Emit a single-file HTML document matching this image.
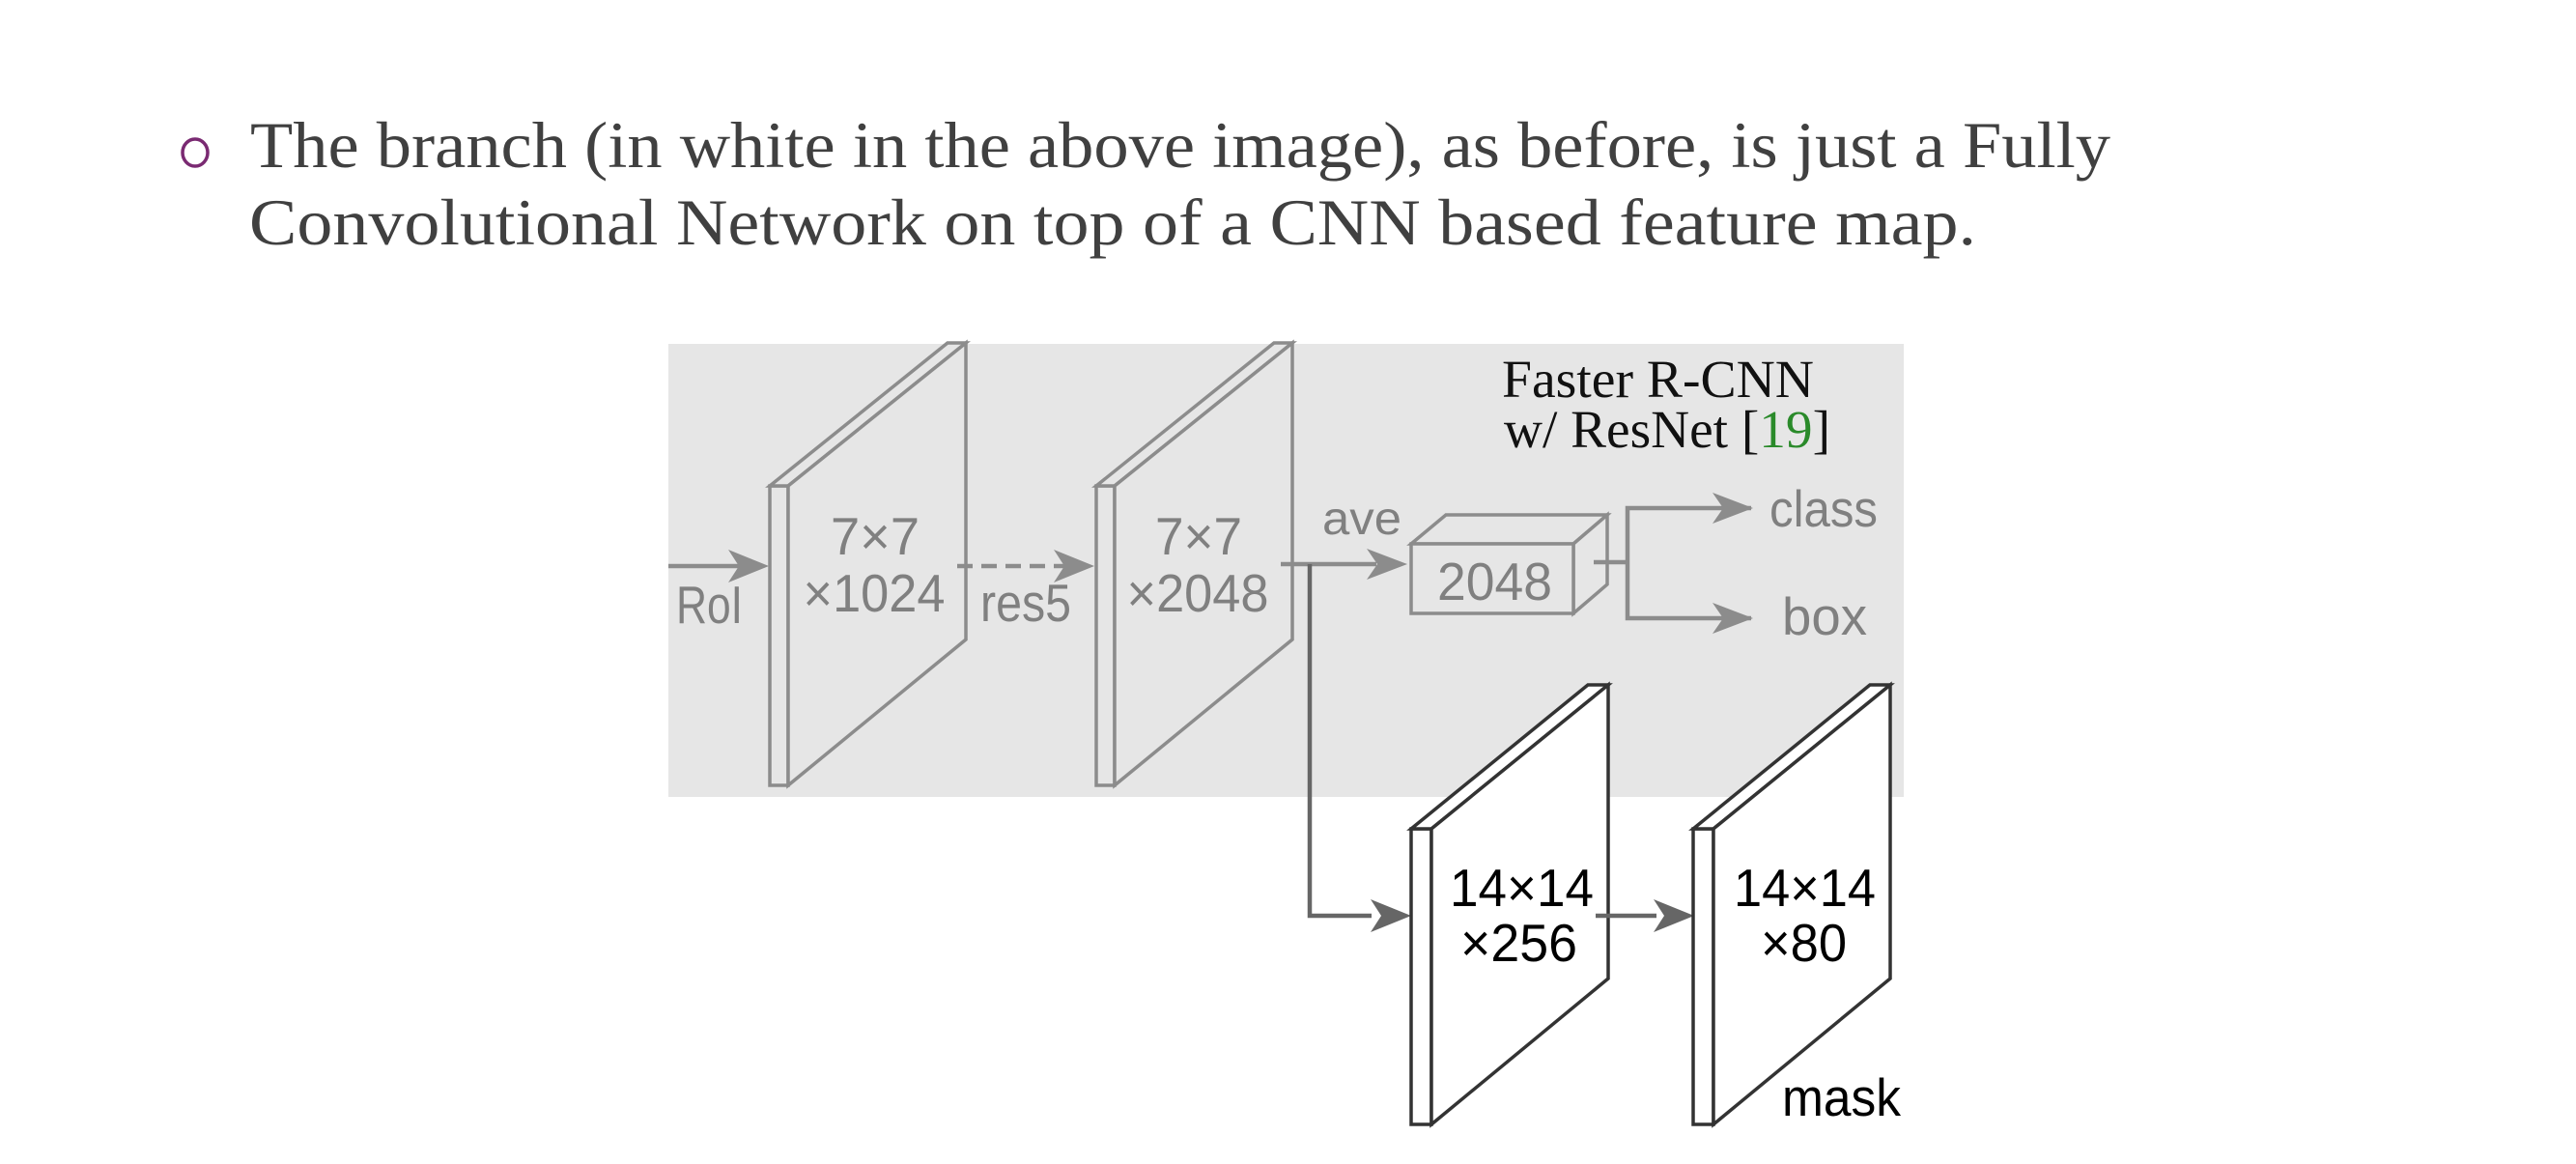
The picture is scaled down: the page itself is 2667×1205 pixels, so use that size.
<!DOCTYPE html>
<html><head><meta charset="utf-8"><style>
html,body{margin:0;padding:0;background:#fff;}
svg{display:block;}
</style></head><body>
<svg width="2667" height="1205" viewBox="0 0 2667 1205" xmlns="http://www.w3.org/2000/svg">
<!-- bullet text -->
<ellipse cx="202" cy="158" rx="13" ry="14" fill="none" stroke="#7a2a72" stroke-width="3.5"/>
<g font-family="Liberation Serif, serif" font-size="68" fill="#404040">
<text x="259" y="173" textLength="1926" lengthAdjust="spacingAndGlyphs">The branch (in white in the above image), as before, is just a Fully</text>
<text x="258" y="253" textLength="1788" lengthAdjust="spacingAndGlyphs">Convolutional Network on top of a CNN based feature map.</text>
</g>
<!-- gray background -->
<rect x="692" y="356" width="1279" height="469" fill="#e6e6e6"/>

<!-- gray plates -->
<g fill="#e6e6e6" stroke="#8c8c8c" stroke-width="3.5" stroke-linejoin="miter">
<rect x="797" y="503" width="19" height="310"/>
<polygon points="797,503 981,355 1000,355 816,503"/>
<polygon points="816,503 1000,355 1000,662 816,813"/>
<rect x="1135" y="503" width="19" height="310"/>
<polygon points="1135,503 1319,355 1338,355 1154,503"/>
<polygon points="1154,503 1338,355 1338,662 1154,813"/>
</g>

<!-- gray arrows -->
<g stroke="#8c8c8c" stroke-width="4.5" fill="none">
<line x1="692" y1="586" x2="770" y2="586"/>
<line x1="991" y1="586" x2="1105" y2="586" stroke-dasharray="16,9"/>
<line x1="1326" y1="584" x2="1425" y2="584"/>
<polyline points="1813,526 1685,526 1685,640 1813,640"/>
</g>
<g fill="#8c8c8c">
<polygon points="796,586 754,569 765,586 754,603"/>
<polygon points="1133,586 1091,569 1102,586 1091,603"/>
<polygon points="1457,584 1415,568 1426,584 1415,600"/>
<polygon points="1815,526 1773,510 1784,526 1773,542"/>
<polygon points="1815,640 1773,624 1784,640 1773,656"/>
</g>
<!-- 2048 box -->
<g fill="#e6e6e6" stroke="#8c8c8c" stroke-width="3.5">
<polygon points="1461,563 1497,533 1664,533 1629,563"/>
<polygon points="1629,563 1664,533 1664,605 1629,635"/>
<rect x="1461" y="563" width="168" height="72"/>
</g>
<line x1="1650" y1="582" x2="1685" y2="582" stroke="#8c8c8c" stroke-width="4.5"/>

<!-- gray labels -->
<g font-family="Liberation Sans, sans-serif" fill="#808080" font-size="55">
<text x="700" y="645" textLength="69" lengthAdjust="spacingAndGlyphs">RoI</text>
<text x="906" y="574" text-anchor="middle" textLength="92" lengthAdjust="spacingAndGlyphs">7×7</text>
<text x="905" y="633" textLength="147" lengthAdjust="spacingAndGlyphs" text-anchor="middle">×1024</text>
<text x="1015" y="643" textLength="94" lengthAdjust="spacingAndGlyphs">res5</text>
<text x="1241" y="574" text-anchor="middle" textLength="90" lengthAdjust="spacingAndGlyphs">7×7</text>
<text x="1240" y="633" textLength="147" lengthAdjust="spacingAndGlyphs" text-anchor="middle">×2048</text>
<text x="1369" y="553" font-size="48" textLength="82" lengthAdjust="spacingAndGlyphs">ave</text>
<text x="1488" y="621" textLength="119" lengthAdjust="spacingAndGlyphs">2048</text>
<text x="1832" y="545" font-size="53" textLength="112" lengthAdjust="spacingAndGlyphs">class</text>
<text x="1845" y="657" font-size="55" textLength="88" lengthAdjust="spacingAndGlyphs">box</text>
</g>
<g font-family="Liberation Serif, serif" font-size="55" fill="#111">
<text x="1555" y="411" textLength="323" lengthAdjust="spacingAndGlyphs">Faster R-CNN</text>
<text x="1557" y="463" textLength="338" lengthAdjust="spacingAndGlyphs">w/ ResNet [<tspan fill="#2a8a2a">19</tspan>]</text>
</g>

<!-- mask branch line -->
<g stroke="#666" stroke-width="4.5" fill="none">
<polyline points="1356,584 1356,948 1420,948"/>
</g>
<g fill="#666">
<polygon points="1461,948 1419,931 1430,948 1419,965"/>
<polygon points="1754,948 1712,931 1723,948 1712,965"/>
</g>

<!-- white plates -->
<g fill="#fff" stroke="#333" stroke-width="3.5">
<rect x="1461" y="858" width="21" height="306"/>
<polygon points="1461,858 1644,709 1665,709 1482,858"/>
<polygon points="1482,858 1665,709 1665,1013 1482,1164"/>
<rect x="1753" y="858" width="21" height="306"/>
<polygon points="1753,858 1936,709 1957,709 1774,858"/>
<polygon points="1774,858 1957,709 1957,1013 1774,1164"/>
</g>
<line x1="1652" y1="948" x2="1715" y2="948" stroke="#666" stroke-width="4.5"/>
<g font-family="Liberation Sans, sans-serif" fill="#000" font-size="55">
<text x="1501" y="938" textLength="149" lengthAdjust="spacingAndGlyphs">14×14</text>
<text x="1512" y="995" textLength="121" lengthAdjust="spacingAndGlyphs">×256</text>
<text x="1795" y="938" textLength="147" lengthAdjust="spacingAndGlyphs">14×14</text>
<text x="1823" y="995" textLength="89" lengthAdjust="spacingAndGlyphs">×80</text>
<text x="1845" y="1155" textLength="123" lengthAdjust="spacingAndGlyphs">mask</text>
</g>
</svg>
</body></html>
